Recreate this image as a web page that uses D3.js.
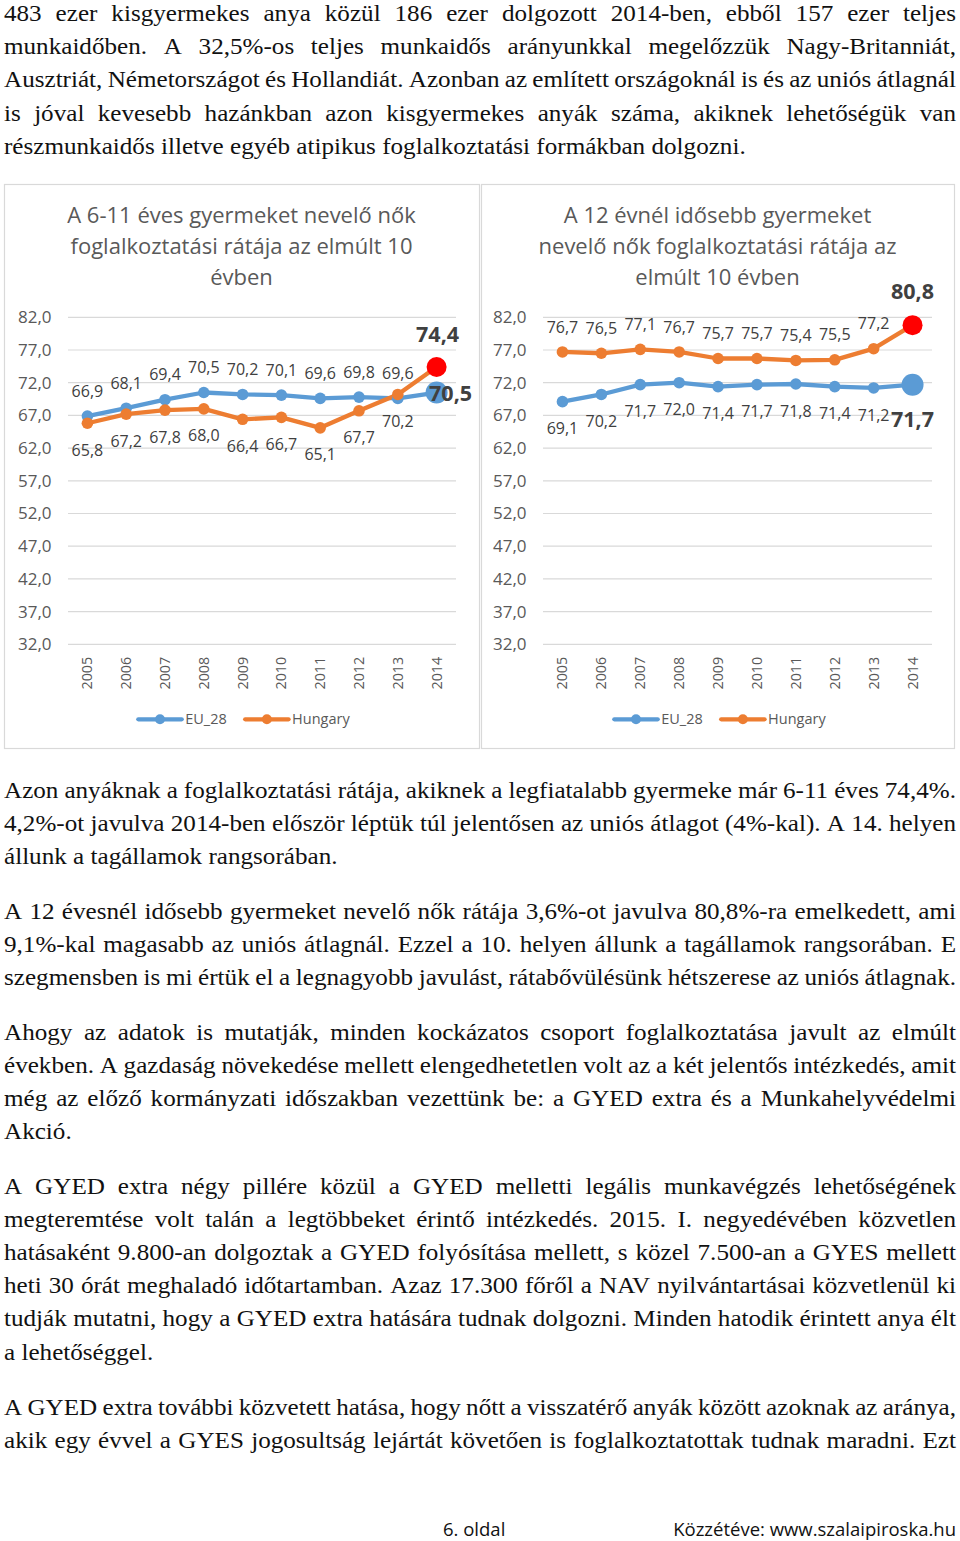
<!DOCTYPE html>
<html><head><meta charset="utf-8">
<script src="https://cdn.jsdelivr.net/npm/d3@7"></script>
<style>
html,body{margin:0;padding:0;background:#fff;}
svg{display:block;}
.body{font-family:"Liberation Serif","Times New Roman",serif;font-size:24px;fill:#111;}
.ct{font-family:"Open Sans",sans-serif;}
.foot{font-family:"Open Sans",sans-serif;font-size:18.5px;fill:#111;}
</style></head><body>
<script>
// ---------- DATA ----------
const years = ["2005","2006","2007","2008","2009","2010","2011","2012","2013","2014"];
const yTicks = [32,37,42,47,52,57,62,67,72,77,82];
const seriesNames = ["EU_28","Hungary"];
const eu611 = [66.9,68.1,69.4,70.5,70.2,70.1,69.6,69.8,69.6,70.5];
const hu611 = [65.8,67.2,67.8,68.0,66.4,66.7,65.1,67.7,70.2,74.4];
const eu12  = [69.1,70.2,71.7,72.0,71.4,71.7,71.8,71.4,71.2,71.7];
const hu12  = [76.7,76.5,77.1,76.7,75.7,75.7,75.4,75.5,77.2,80.8];
const title611 = ["A 6-11 éves gyermeket nevelő nők","foglalkoztatási rátája az elmúlt 10","évben"];
const title12  = ["A 12 évnél idősebb gyermeket","nevelő nők foglalkoztatási rátája az","elmúlt 10 évben"];

const paraTop = [
"483 ezer kisgyermekes anya közül 186 ezer dolgozott 2014-ben, ebből 157 ezer teljes",
"munkaidőben. A 32,5%-os teljes munkaidős arányunkkal megelőzzük Nagy-Britanniát,",
"Ausztriát, Németországot és Hollandiát. Azonban az említett országoknál is és az uniós átlagnál",
"is jóval kevesebb hazánkban azon kisgyermekes anyák száma, akiknek lehetőségük van",
"részmunkaidős illetve egyéb atipikus foglalkoztatási formákban dolgozni."];
const para1 = [
"Azon anyáknak a foglalkoztatási rátája, akiknek a legfiatalabb gyermeke már 6-11 éves 74,4%.",
"4,2%-ot javulva 2014-ben először léptük túl jelentősen az uniós átlagot (4%-kal). A 14. helyen",
"állunk a tagállamok rangsorában."];
const para2 = [
"A 12 évesnél idősebb gyermeket nevelő nők rátája 3,6%-ot javulva 80,8%-ra emelkedett, ami",
"9,1%-kal magasabb az uniós átlagnál. Ezzel a 10. helyen állunk a tagállamok rangsorában. E",
"szegmensben is mi értük el a legnagyobb javulást, rátabővülésünk hétszerese az uniós átlagnak."];
const para3 = [
"Ahogy az adatok is mutatják, minden kockázatos csoport foglalkoztatása javult az elmúlt",
"években. A gazdaság növekedése mellett elengedhetetlen volt az a két jelentős intézkedés, amit",
"még az előző kormányzati időszakban vezettünk be: a GYED extra és a Munkahelyvédelmi",
"Akció."];
const para4 = [
"A GYED extra négy pillére közül a GYED melletti legális munkavégzés lehetőségének",
"megteremtése volt talán a legtöbbeket érintő intézkedés. 2015. I. negyedévében közvetlen",
"hatásaként 9.800-an dolgoztak a GYED folyósítása mellett, s közel 7.500-an a GYES mellett",
"heti 30 órát meghaladó időtartamban. Azaz 17.300 főről a NAV nyilvántartásai közvetlenül ki",
"tudják mutatni, hogy a GYED extra hatására tudnak dolgozni. Minden hatodik érintett anya élt",
"a lehetőséggel."];
const para5 = [
"A GYED extra további közvetett hatása, hogy nőtt a visszatérő anyák között azoknak az aránya,",
"akik egy évvel a GYES jogosultság lejártát követően is foglalkoztatottak tudnak maradni. Ezt"];
const footerLeft = "6. oldal";
const footerRight = "Közzétéve: www.szalaipiroska.hu";

// ---------- STYLE ----------
const C_EU = "#5B9BD5", C_HU = "#ED7D31", C_RED = "#FF0000";
const TXT = "#595959", LBL = "#404040", GRID = "#D9D9D9";
const W = 960, H = 1541;
const TX = 4, TW = 952, LH = 33.2;

const svg = d3.select("body").append("svg").attr("width", W).attr("height", H);
svg.append("rect").attr("width", W).attr("height", H).attr("fill", "#fff");

// ---------- BODY TEXT ----------
const probe = svg.append("text").attr("class","body").text(paraTop[4]);
const SX = 742 / probe.node().getComputedTextLength();
probe.remove();

function drawPara(lines, base, lastJustified) {
  lines.forEach((line, i) => {
    const yb = base + i * LH;
    const g = svg.append("g").attr("transform", `translate(${TX},${yb}) scale(${SX},1)`);
    const words = line.split(" ");
    const texts = words.map(w => g.append("text").attr("class","body").text(w));
    const widths = texts.map(t => t.node().getComputedTextLength());
    const sp = widths.length > 1 ? 0.25 * 24 : 0;
    const natural = d3.sum(widths) + sp * (words.length - 1);
    const justify = i < lines.length - 1 || lastJustified || natural > TW / SX;
    const gap = justify && words.length > 1 ? (TW / SX - d3.sum(widths)) / (words.length - 1) : sp;
    let xx = 0;
    texts.forEach((t, k) => { t.attr("x", xx); xx += widths[k] + gap; });
  });
}
drawPara(paraTop, 21.0, false);
drawPara(para1, 797.5, false);
drawPara(para2, 918.5, false);
drawPara(para3, 1039.5, false);
drawPara(para4, 1193.5, false);
drawPara(para5, 1414.5, true);

// footer
svg.append("text").attr("class","foot").attr("x", 443).attr("y", 1535.5).text(footerLeft);
svg.append("text").attr("class","foot").attr("x", 956).attr("y", 1535.5)
  .attr("text-anchor","end").text(footerRight);

// ---------- CHARTS ----------
const fmt = d => d.toFixed(1).replace(".", ",");

function drawChart(cfg) {
  const g = svg.append("g").attr("class","ct");
  g.append("rect").attr("x", cfg.bx + 0.5).attr("y", 184.5).attr("width", cfg.bw).attr("height", 564)
    .attr("fill", "#fff").attr("stroke", GRID).attr("stroke-width", 1.2);

  const x = d3.scaleBand().domain(years).range([cfg.px0, cfg.px1]);
  const y = d3.scaleLinear().domain([32, 82]).range([644.3, 317.3]);
  const cx = d => x(d) + x.bandwidth() / 2;

  // title
  const titleCx = cfg.bx + cfg.bw / 2;
  g.append("text").attr("text-anchor","middle").attr("fill", TXT).style("font-size","22px")
    .selectAll("tspan").data(cfg.title).join("tspan")
    .attr("x", titleCx).attr("y", (d, i) => 223.3 + i * 30.6).text(d => d);

  // grid
  g.append("g").selectAll("line").data(yTicks).join("line")
    .attr("x1", cfg.px0).attr("x2", cfg.px1).attr("y1", d => y(d)).attr("y2", d => y(d))
    .attr("stroke", GRID).attr("stroke-width", 1.2);

  // y axis
  const ya = g.append("g").attr("transform", `translate(${cfg.px0},0)`)
    .call(d3.axisLeft(y).tickValues(yTicks).tickSize(0).tickPadding(16.5).tickFormat(fmt));
  ya.select(".domain").remove();
  ya.selectAll("text").attr("fill", TXT).style("font-size","17px").style("font-family","Open Sans");

  // x axis
  const xa = g.append("g").attr("transform", `translate(0,${y(32)})`)
    .call(d3.axisBottom(x).tickSize(0));
  xa.select(".domain").remove();
  xa.selectAll("text").attr("transform","rotate(-90)").attr("text-anchor","end")
    .attr("x", -12.5).attr("y", 0).attr("dy","0.35em")
    .attr("fill", TXT).style("font-size","14.3px").style("font-family","Open Sans");

  const line = d3.line().x((d, i) => cx(years[i])).y(d => y(d));
  const series = [
    {vals: cfg.eu, color: C_EU, pos: cfg.euPos, last: cfg.euLast, lastColor: C_EU, lastR: 11},
    {vals: cfg.hu, color: C_HU, pos: cfg.huPos, last: cfg.huLast, lastColor: C_RED, lastR: 10}
  ];
  series.forEach(s => {
    g.append("path").datum(s.vals).attr("d", line).attr("fill","none")
      .attr("stroke", s.color).attr("stroke-width", 4.3).attr("stroke-linejoin","round");
  });
  series.forEach(s => {
    g.append("g").selectAll("circle").data(s.vals).join("circle")
      .attr("cx", (d, i) => cx(years[i])).attr("cy", d => y(d))
      .attr("r", (d, i) => i === s.vals.length - 1 ? s.lastR : 5.8)
      .attr("fill", (d, i) => i === s.vals.length - 1 ? s.lastColor : s.color);
  });
  series.forEach(s => {
    const n = s.vals.length;
    g.append("g").selectAll("text").data(s.vals.slice(0, n - 1)).join("text")
      .attr("x", (d, i) => cx(years[i])).attr("y", d => y(d) + (s.pos === "above" ? -25 : 27))
      .attr("dy","0.35em").attr("text-anchor","middle").attr("fill", LBL)
      .style("font-size","16px").text(fmt);
    const lv = s.vals[n - 1];
    g.append("text").attr("x", cx(years[n - 1]) + s.last.dx).attr("y", y(lv) + s.last.dy)
      .attr("dy","0.35em").attr("text-anchor","middle").attr("fill", LBL)
      .style("font-size","21.5px").style("font-weight","bold").text(fmt(lv));
  });

  // legend
  const lg = g.append("g");
  const items = [{name: seriesNames[0], color: C_EU}, {name: seriesNames[1], color: C_HU}];
  const tmp = items.map(it => {
    const t = lg.append("text").style("font-size","14.5px").attr("fill", TXT).text(it.name);
    return {t, w: t.node().getComputedTextLength(), ...it};
  });
  const segW = 43.4, txtGap = 3.5, itemGap = 18.4;
  const total = d3.sum(tmp, d => segW + txtGap + d.w) + itemGap;
  let lx = titleCx + 2.5 - total / 2;
  const ly = 719.3;
  tmp.forEach(it => {
    lg.append("line").attr("x1", lx).attr("x2", lx + segW).attr("y1", ly).attr("y2", ly)
      .attr("stroke", it.color).attr("stroke-width", 4.3).attr("stroke-linecap","round");
    lg.append("circle").attr("cx", lx + segW / 2).attr("cy", ly).attr("r", 5).attr("fill", it.color);
    it.t.attr("x", lx + segW + txtGap).attr("y", ly).attr("dy","0.35em").raise();
    lx += segW + txtGap + it.w + itemGap;
  });
}

drawChart({bx: 4, bw: 475, px0: 68, px1: 456, title: title611, eu: eu611, hu: hu611,
  euPos: "above", huPos: "below", euLast: {dx: 14, dy: 1}, huLast: {dx: 1, dy: -33}});
drawChart({bx: 481, bw: 473, px0: 543, px1: 932, title: title12, eu: eu12, hu: hu12,
  euPos: "below", huPos: "above", euLast: {dx: 0, dy: 35}, huLast: {dx: 0, dy: -34}});
</script>
</body></html>
